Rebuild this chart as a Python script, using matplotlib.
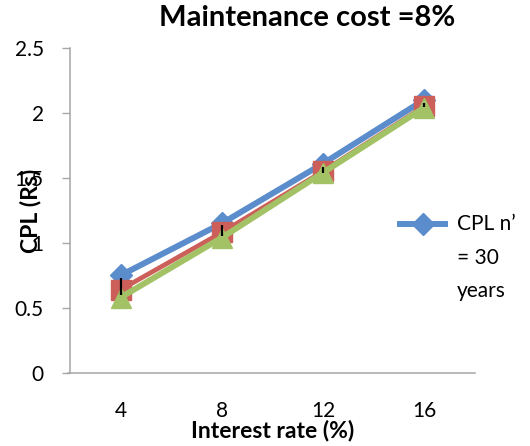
import matplotlib
matplotlib.use("Agg")
import matplotlib.pyplot as plt
from matplotlib.lines import Line2D

plt.rcParams['font.family'] = ['Lato', 'DejaVu Sans']

# Data
rates = ["4", "8", "12", "16"]
cpl_a = [0.75, 1.15, 1.61, 2.10]
cpl_b = [0.64, 1.08, 1.55, 2.05]
cpl_c = [0.58, 1.04, 1.54, 2.04]
bar_low = [0.60, 1.053, 1.54, 2.047]
bar_high = [0.728, 1.137, 1.586, 2.073]
y_ticks = [0, 0.5, 1, 1.5, 2, 2.5]
y_tick_labels = ["0", "0.5", "1", "1.5", "2", "2.5"]

blue = "#5B8DCC"
red = "#CD5F5B"
green = "#A3C265"
axis_gray = "#A6A6A6"

fig = plt.figure(figsize=(5.30, 4.46), dpi=100)
ax = fig.add_axes([0.132, 0.1637, 0.764, 0.7293])

x = list(range(len(rates)))
ax.plot(x, cpl_a, color=blue, lw=4.3, marker="D", ms=11, mec=blue, mfc=blue, zorder=3)
ax.plot(x, cpl_b, color=red, lw=3.4, marker="s", ms=15, mec=red, mfc=red, zorder=4)
ax.plot(x, cpl_c, color=green, lw=4.3, marker="^", ms=15, mec=green, mfc=green, zorder=5)
ax.vlines(x, bar_low, bar_high, colors="black", lw=1.6, zorder=6)

ax.set_xlim(-0.5, len(rates) - 0.5)
ax.set_ylim(0, 2.5)
ax.set_xticks(x)
ax.set_xticklabels(rates, fontsize=15)
ax.set_yticks(y_ticks)
ax.set_yticklabels(y_tick_labels, fontsize=15)
ax.tick_params(axis="x", length=0, pad=20)
ax.tick_params(axis="y", length=5.8, width=1.0, color=axis_gray, pad=13)

for side in ("top", "right"):
    ax.spines[side].set_visible(False)
for side in ("left", "bottom"):
    ax.spines[side].set_color(axis_gray)
    ax.spines[side].set_linewidth(1.1)
ax.spines["bottom"].set_bounds(-0.5 - 0.02, len(rates) - 0.5)

fig.text(0.58, 0.96, "Maintenance cost =8%", fontsize=21, fontweight="bold",
         ha="center", va="center")
fig.text(0.515, 0.035, "Interest rate (%)", fontsize=16.5, fontweight="bold",
         ha="center", va="center")
fig.text(0.057, 0.527, "CPL (Rs)", fontsize=16.5, fontweight="bold",
         rotation=90, ha="center", va="center")

# Legend entry for the first series
ly = 1 - 224 / 446
fig.add_artist(Line2D([400 / 530, 445 / 530], [ly, ly], color=blue, lw=4.3,
                      transform=fig.transFigure))
fig.add_artist(Line2D([422.5 / 530], [ly], color=blue, marker="D", ms=11,
                      transform=fig.transFigure))
fig.text(457 / 530, ly, "CPL n\u2019", fontsize=15, ha="left", va="center")
fig.text(457 / 530, 1 - 258 / 446, "= 30", fontsize=15, ha="left", va="center")
fig.text(457 / 530, 1 - 291 / 446, "years", fontsize=15, ha="left", va="center")

fig.savefig("out.png", dpi=100)
